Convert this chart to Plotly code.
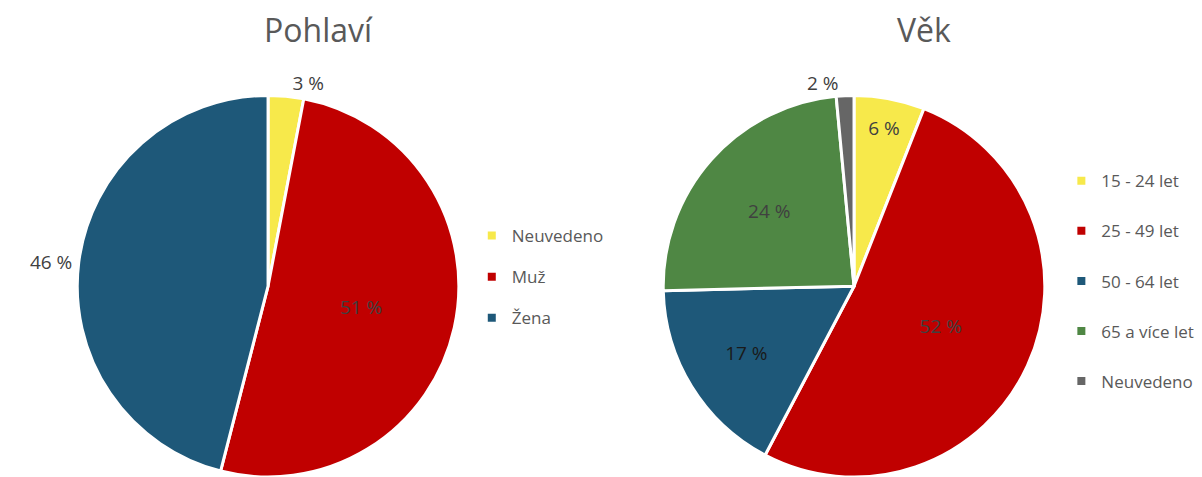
import plotly.graph_objects as go

# ---- data ----
gender_labels = ["Neuvedeno", "Muž", "Žena"]
gender_values = [3, 51, 46]
gender_colors = ["#F7E94B", "#C00000", "#1E5879"]

age_labels = ["15 - 24 let", "25 - 49 let", "50 - 64 let", "65 a více let", "Neuvedeno"]
age_values = [6, 52, 17, 24, 1.5]
age_text = ["6 %", "52 %", "17 %", "24 %", "2 %"]
age_colors = ["#F7E94B", "#C00000", "#1E5879", "#4F8744", "#666666"]

gender_text = [f"{v} %" for v in gender_values]

FONT = "Open Sans"
LABEL_COLOR = "#404040"
LEGEND_COLOR = "#595959"

fig = go.Figure()

fig.add_trace(go.Pie(
    labels=gender_labels, values=gender_values, text=gender_text,
    textinfo="text", sort=False, direction="clockwise", rotation=0,
    marker=dict(colors=gender_colors, line=dict(color="white", width=3)),
    textposition=["outside", "inside", "outside"],
    insidetextorientation="horizontal",
    textfont=dict(family=FONT, size=19, color=LABEL_COLOR),
    outsidetextfont=dict(family=FONT, size=19, color=LABEL_COLOR),
    insidetextfont=dict(family=FONT, size=19, color=LABEL_COLOR),
    domain=dict(x=[0.064, 0.382], y=[0, 0.80]),
    showlegend=False, hoverinfo="label+percent",
))

fig.add_trace(go.Pie(
    labels=age_labels, values=age_values, text=age_text,
    textinfo="text", sort=False, direction="clockwise", rotation=0,
    marker=dict(colors=age_colors, line=dict(color="white", width=3)),
    textposition=["inside", "inside", "inside", "inside", "outside"],
    insidetextorientation="horizontal",
    textfont=dict(family=FONT, size=19, color=LABEL_COLOR),
    outsidetextfont=dict(family=FONT, size=19, color=LABEL_COLOR),
    insidetextfont=dict(family=FONT, size=19,
                        color=[LABEL_COLOR, LABEL_COLOR, "#1a1a1a", LABEL_COLOR, LABEL_COLOR]),
    domain=dict(x=[0.5516, 0.8694], y=[0, 0.80]),
    showlegend=False, hoverinfo="label+percent",
))

# legend entries (dummy traces so item spacing can match)
for lab, col in zip(gender_labels, gender_colors):
    fig.add_trace(go.Scatter(
        x=[None], y=[None], mode="markers", name=lab,
        marker=dict(symbol="square", size=8, color=col),
        legendgroup="g_" + lab, legend="legend", showlegend=True,
    ))
for lab, col in zip(age_labels, age_colors):
    fig.add_trace(go.Scatter(
        x=[None], y=[None], mode="markers", name=lab,
        marker=dict(symbol="square", size=8, color=col),
        legendgroup="a_" + lab, legend="legend2", showlegend=True,
    ))

fig.update_layout(
    width=1202, height=477,
    margin=dict(l=0, r=0, t=0, b=0, autoexpand=False),
    paper_bgcolor="white", plot_bgcolor="white",
    font=dict(family=FONT, color=LEGEND_COLOR),
    xaxis=dict(visible=False), yaxis=dict(visible=False),
    legend=dict(x=0.3925, xanchor="left", y=0.543, yanchor="top",
                font=dict(family=FONT, size=17, color=LEGEND_COLOR),
                traceorder="grouped", tracegroupgap=16, bgcolor="rgba(0,0,0,0)"),
    legend2=dict(x=0.883, xanchor="left", y=0.658, yanchor="top",
                 font=dict(family=FONT, size=17, color=LEGEND_COLOR),
                 traceorder="grouped", tracegroupgap=25, bgcolor="rgba(0,0,0,0)"),
    annotations=[
        dict(text="Pohlaví", x=318 / 1202, y=1 - 30 / 477, xref="paper", yref="paper",
             xanchor="center", yanchor="middle",
             showarrow=False, font=dict(family=FONT, size=32, color=LEGEND_COLOR)),
        dict(text="Věk", x=924 / 1202, y=1 - 30 / 477, xref="paper", yref="paper",
             xanchor="center", yanchor="middle",
             showarrow=False, font=dict(family=FONT, size=32, color=LEGEND_COLOR)),
    ],
)

fig.write_html("out.html", config={"displayModeBar": False},
               post_script="document.body.style.margin='0';")
